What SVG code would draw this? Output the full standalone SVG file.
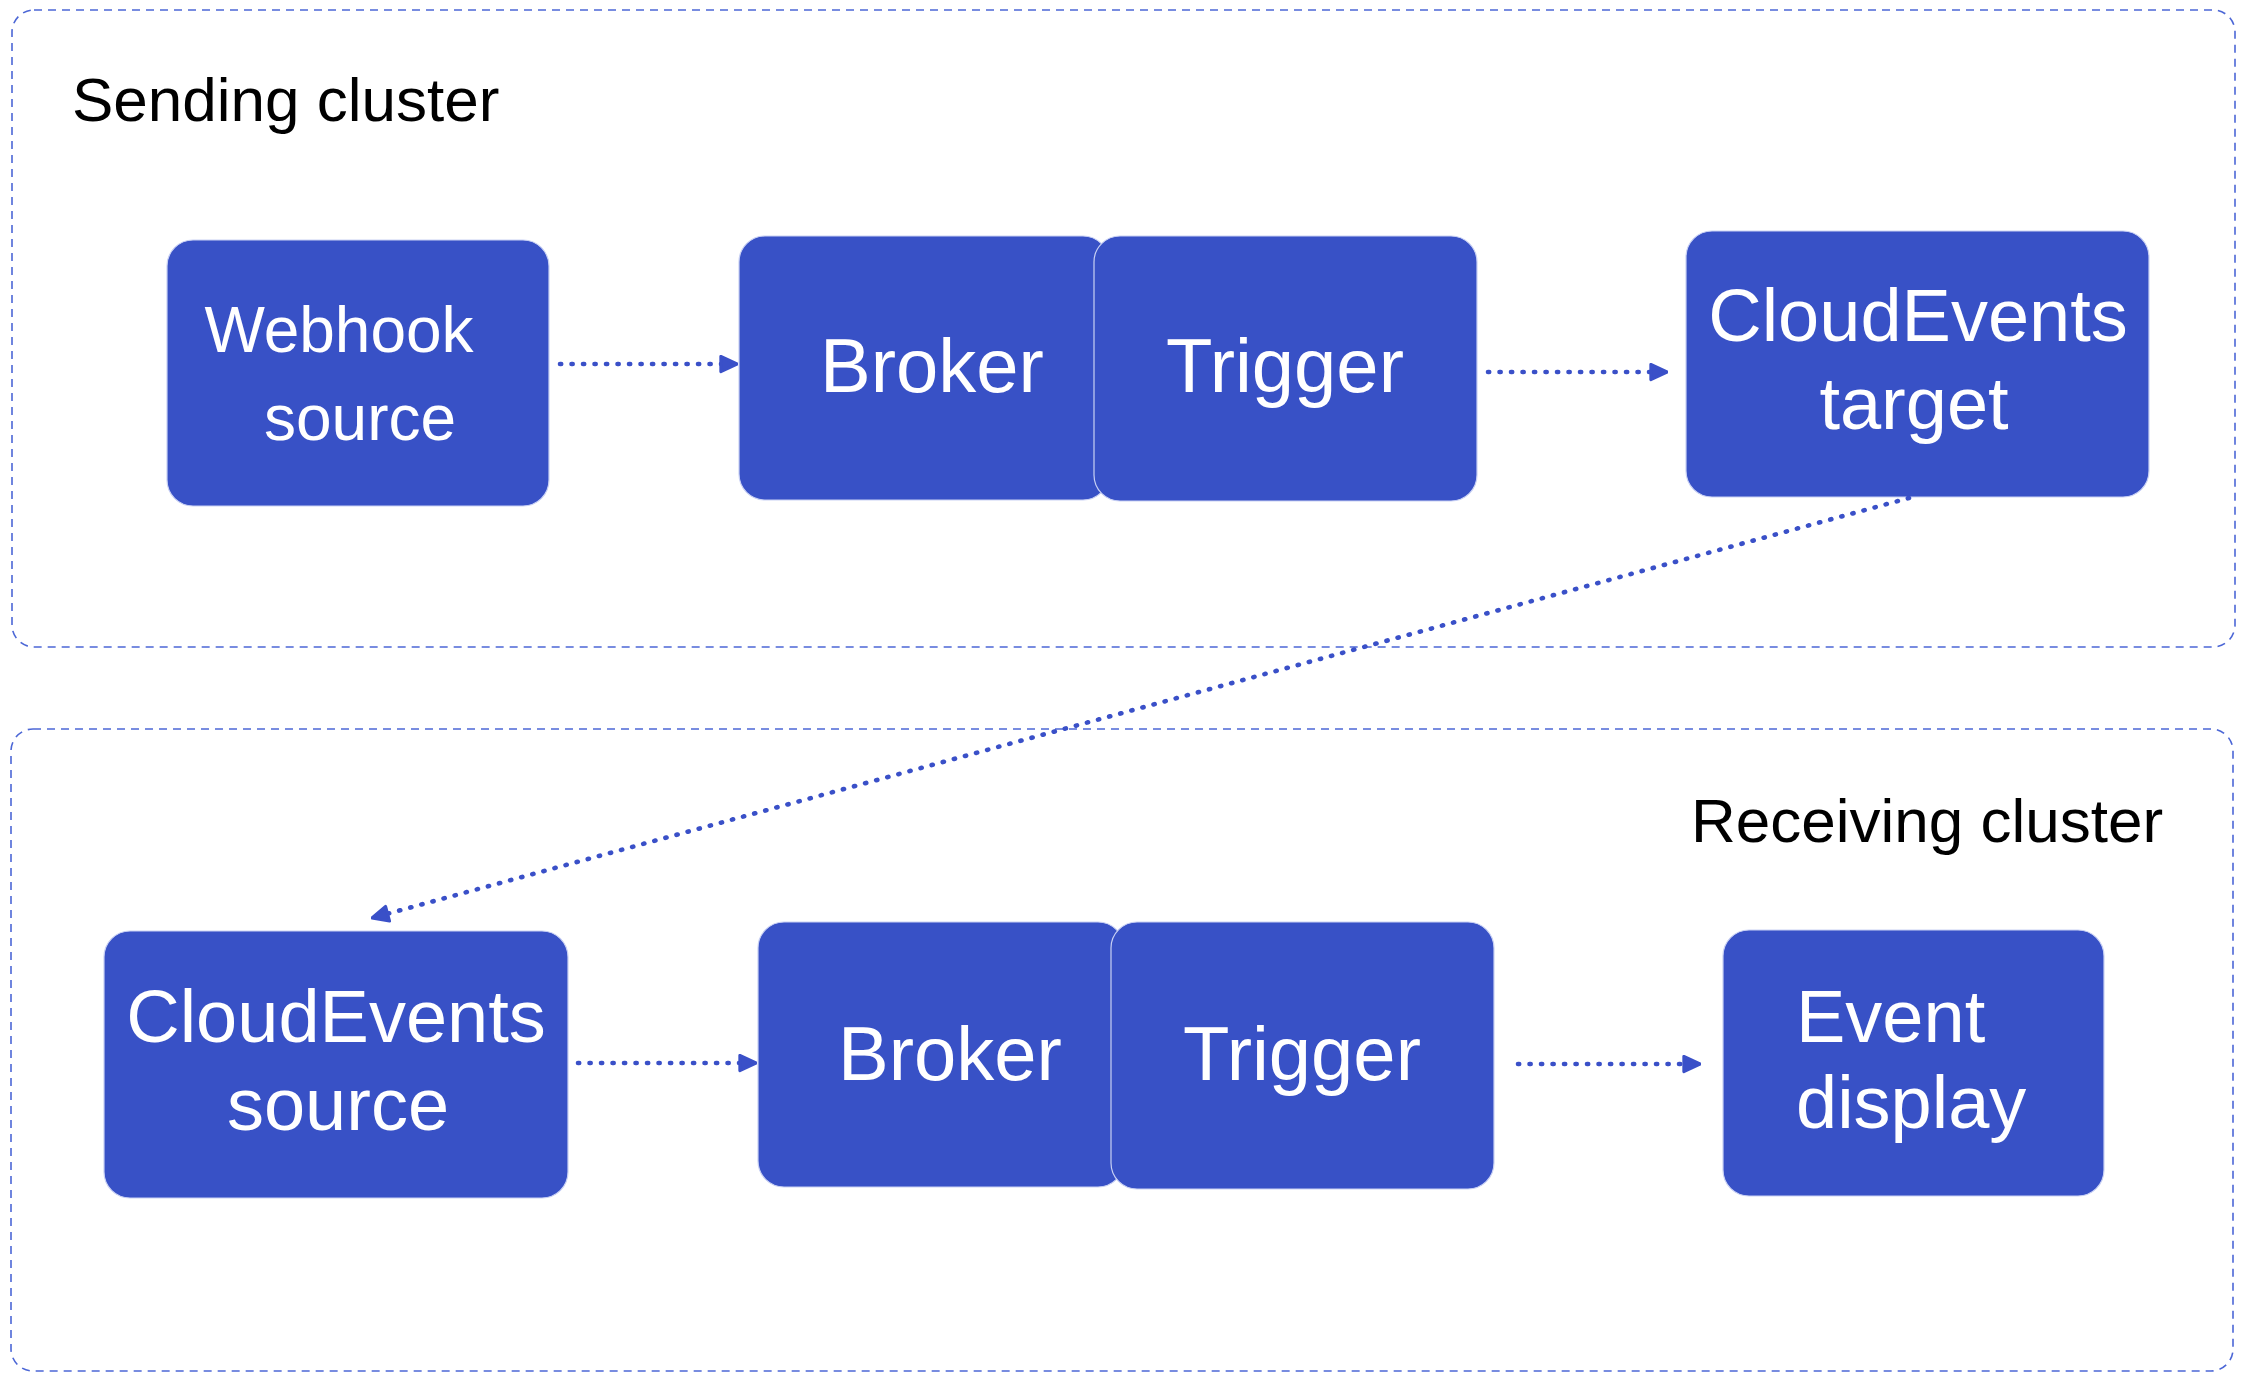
<svg xmlns="http://www.w3.org/2000/svg" width="2246" height="1375" viewBox="0 0 2246 1375">
<style>
.cluster{fill:none;stroke:#4c67d6;stroke-width:1.6;stroke-dasharray:8 6}
.node{fill:#3851c6;stroke:#c9d1f4;stroke-width:1.2}
.lbl{font-family:"Liberation Sans",Arial,sans-serif;fill:#ffffff;text-anchor:middle}
.title{font-family:"Liberation Sans",Arial,sans-serif;fill:#000000;font-size:62px}
.conn{fill:none;stroke:#3a50c8;stroke-width:4.6;stroke-linecap:round;stroke-dasharray:1.2 10.3}
</style>
<defs>
<marker id="arr" viewBox="0 0 10 10" refX="9.5" refY="5" markerWidth="19" markerHeight="19" markerUnits="userSpaceOnUse" orient="auto">
<path d="M1,1 L9.5,5 L1,9 z" fill="#3a50c8" stroke="#3a50c8" stroke-width="1.6" stroke-linejoin="round"/>
</marker>
</defs>
<rect width="2246" height="1375" fill="#ffffff"/>
<g id="sending-cluster">
<rect class="cluster" x="12" y="10" width="2223" height="637" rx="22"/>
<text class="title" x="72" y="121">Sending cluster</text>
</g>
<g id="receiving-cluster">
<rect class="cluster" x="11" y="729" width="2222" height="642" rx="22"/>
<text class="title" x="1691" y="842">Receiving cluster</text>
</g>
<g id="webhook-source">
<rect class="node" x="167" y="240" width="382" height="266" rx="26"/>
<text class="lbl" font-size="64" x="339" y="352">Webhook</text>
<text class="lbl" font-size="64" x="360" y="440">source</text>
</g>
<g id="broker-top">
<rect class="node" x="739" y="236" width="370" height="264" rx="26"/>
<text class="lbl" font-size="76" x="932" y="392">Broker</text>
</g>
<g id="trigger-top">
<rect class="node" x="1094" y="236" width="383" height="265" rx="26"/>
<text class="lbl" font-size="76" x="1285" y="392">Trigger</text>
</g>
<g id="cloudevents-target">
<rect class="node" x="1686" y="231" width="463" height="266" rx="26"/>
<text class="lbl" font-size="74" x="1918" y="341">CloudEvents</text>
<text class="lbl" font-size="74" x="1914" y="429">target</text>
</g>
<g id="cloudevents-source">
<rect class="node" x="104" y="931" width="464" height="267" rx="26"/>
<text class="lbl" font-size="74" x="336" y="1042">CloudEvents</text>
<text class="lbl" font-size="74" x="338" y="1130">source</text>
</g>
<g id="broker-bottom">
<rect class="node" x="758" y="922" width="366" height="265" rx="26"/>
<text class="lbl" font-size="76" x="950" y="1080">Broker</text>
</g>
<g id="trigger-bottom">
<rect class="node" x="1111" y="922" width="383" height="267" rx="26"/>
<text class="lbl" font-size="76" x="1302" y="1080">Trigger</text>
</g>
<g id="event-display">
<rect class="node" x="1723" y="930" width="381" height="266" rx="26"/>
<text class="lbl" font-size="74" x="1796" y="1042" style="text-anchor:start">Event</text>
<text class="lbl" font-size="74" x="1796" y="1128" style="text-anchor:start">display</text>
</g>
<g id="connectors">
<path class="conn" d="M560,364 L737,364" marker-end="url(#arr)"/>
<path class="conn" d="M1488,372 L1667,372" marker-end="url(#arr)"/>
<path class="conn" d="M1909,498 L372,918" marker-end="url(#arr)"/>
<path class="conn" d="M578,1063 L756,1063" marker-end="url(#arr)"/>
<path class="conn" d="M1518,1064 L1700,1064" marker-end="url(#arr)"/>
</g>
</svg>
